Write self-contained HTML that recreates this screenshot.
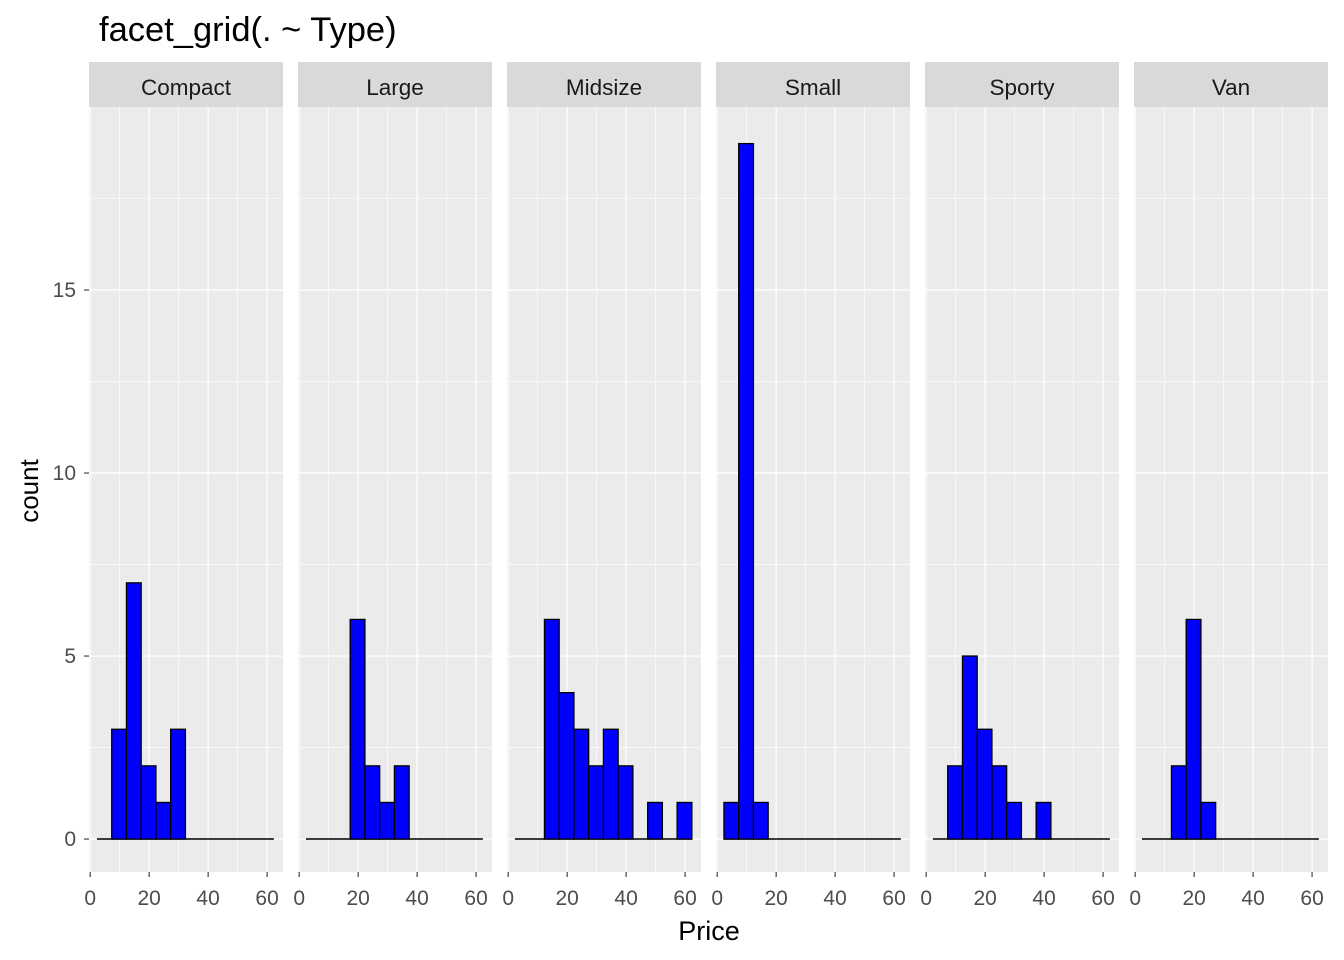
<!DOCTYPE html>
<html><head><meta charset="utf-8"><style>
body{margin:0;background:#fff}
svg{display:block;font-family:"Liberation Sans",Arial,sans-serif}
</style></head><body>
<svg id="chart" width="1344" height="960">
<text x="99" y="41" font-size="34.5" fill="#000">facet_grid(. ~ Type)</text>
<text x="709" y="940" font-size="27" fill="#000" text-anchor="middle">Price</text>
<text transform="translate(38,491) rotate(-90)" font-size="26" fill="#000" text-anchor="middle">count</text>
</svg>
<script>
const facets = ["Compact","Large","Midsize","Small","Sporty","Van"];
const binStart = 2.3;
const binWidth = 5;
const compactCounts = [0,3,7,2,1,3,0,0,0,0,0,0];
const largeCounts   = [0,0,0,6,2,1,2,0,0,0,0,0];
const midsizeCounts = [0,0,6,4,3,2,3,2,0,1,0,1];
const smallCounts   = [1,19,1,0,0,0,0,0,0,0,0,0];
const sportyCounts  = [0,2,5,3,2,1,0,1,0,0,0,0];
const vanCounts     = [0,0,2,6,1,0,0,0,0,0,0,0];
const xTicks = [0,20,40,60];
const yTicks = [0,5,10,15];
const allCounts = [compactCounts,largeCounts,midsizeCounts,smallCounts,sportyCounts,vanCounts];

const NS="http://www.w3.org/2000/svg";
const svg=document.getElementById('chart');
const panelLefts=[89,298,507,716,925,1134], panelW=194;
const pTop=107, pBot=872, stripTop=62;
const xDom=[-0.4,65.4], yDom=[-0.9,20.0];
function mk(t,a,p){const e=document.createElementNS(NS,t);for(const k in a)e.setAttribute(k,a[k]);(p||svg).appendChild(e);return e;}
const yS=v=>pBot-(v-yDom[0])/(yDom[1]-yDom[0])*(pBot-pTop);

yTicks.forEach(v=>{
  const t=mk('line',{x1:84,x2:89,y1:yS(v),y2:yS(v),stroke:'#333','stroke-width':1.1});
  
  
  const l=mk('text',{x:76,y:yS(v)+7,'font-size':21,fill:'#4d4d4d','text-anchor':'end'});
  l.textContent=v;
  
  
});

facets.forEach((f,i)=>{
  const L=panelLefts[i];
  const xS=v=>L+(v-xDom[0])/(xDom[1]-xDom[0])*panelW;
  const g=mk('g',{});
  
  
  mk('rect',{x:L,y:pTop,width:panelW,height:pBot-pTop,fill:'#ebebeb'},g);
  [2.5,7.5,12.5,17.5].forEach(v=>mk('line',{x1:L,x2:L+panelW,y1:yS(v),y2:yS(v),stroke:'#fff','stroke-width':0.6},g));
  [10,30,50].forEach(v=>mk('line',{x1:xS(v),x2:xS(v),y1:pTop,y2:pBot,stroke:'#fff','stroke-width':0.6},g));
  yTicks.forEach(v=>mk('line',{x1:L,x2:L+panelW,y1:yS(v),y2:yS(v),stroke:'#fff','stroke-width':1.2},g));
  xTicks.forEach(v=>mk('line',{x1:xS(v),x2:xS(v),y1:pTop,y2:pBot,stroke:'#fff','stroke-width':1.2},g));
  const counts=allCounts[i];
  const base=mk('line',{x1:xS(binStart),x2:xS(binStart+counts.length*binWidth),y1:yS(0),y2:yS(0),stroke:'#000','stroke-width':1.5},g);
  
  
  counts.forEach((c,k)=>{
    if(c<=0) return;
    const x0=xS(binStart+k*binWidth), x1=xS(binStart+(k+1)*binWidth);
    const r=mk('rect',{x:x0,y:yS(c),width:x1-x0,height:yS(0)-yS(c),fill:'#0000ff',stroke:'#000','stroke-width':1.3},g);
    
    
  });
  const s=mk('rect',{x:L,y:stripTop,width:panelW,height:pTop-stripTop,fill:'#d9d9d9'});
  
  
  const st=mk('text',{x:L+panelW/2,y:95,'font-size':22.5,fill:'#1a1a1a','text-anchor':'middle'});
  st.textContent=f;
  
  
  xTicks.forEach(v=>{
    const t=mk('line',{x1:xS(v),x2:xS(v),y1:pBot,y2:pBot+5,stroke:'#333','stroke-width':1.1});
    
    
    const l=mk('text',{x:xS(v),y:905,'font-size':21,fill:'#4d4d4d','text-anchor':'middle'});
    l.textContent=v;
    
    
  });
});
</script>
</body></html>
